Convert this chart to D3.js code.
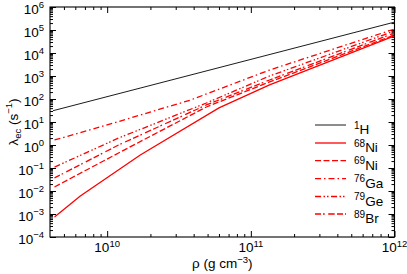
<!DOCTYPE html>
<html><head><meta charset="utf-8">
<script src="https://cdn.jsdelivr.net/npm/d3@7"></script>
<style>
html,body{margin:0;padding:0;background:#fff;}
svg{display:block;font-family:"Liberation Sans",Arial,sans-serif;}
</style></head>
<body>
<script>
// ---- data ----
const xTickValues = [1e10, 1e11, 1e12];
const xTickExps = ["10", "11", "12"];
const yTickValues = [1e-4, 1e-3, 1e-2, 1e-1, 1e0, 1e1, 1e2, 1e3, 1e4, 1e5, 1e6];
const yTickExps = ["\u22124", "\u22123", "\u22122", "\u22121", "0", "1", "2", "3", "4", "5", "6"];

const seriesNames = ["H", "Ni", "Ni", "Ga", "Ge", "Br"];
const seriesMass = ["1", "68", "69", "76", "79", "89"];

const rhoH = [4.2e9, 1e12];
const rateH = [31, 2.2e5];
const rhoNi68 = [4.3e9, 6.5e9, 1.7e10, 6e10, 1.35e11, 1e12];
const rateNi68 = [7.4e-4, 6.1e-3, 0.37, 41, 410, 5.5e4];
const rhoNi69 = [4.3e9, 1.2e10, 4.9e10, 1.35e11, 1e12];
const rateNi69 = [0.015, 0.45, 45, 550, 6.1e4];
const rhoGa76 = [4.3e9, 1.2e10, 3.8e10, 1.35e11, 1e12];
const rateGa76 = [1.65, 10.5, 90, 1820, 1.1e5];
const rhoGe79 = [4.3e9, 1.2e10, 4.9e10, 1.35e11, 1e12];
const rateGe79 = [0.11, 2.0, 67, 1000, 9.1e4];
const rhoBr89 = [4.3e9, 1.2e10, 4.9e10, 1.35e11, 1e12];
const rateBr89 = [0.037, 1.0, 55, 670, 7.4e4];

// ---- styles ----
const seriesRho = [rhoH, rhoNi68, rhoNi69, rhoGa76, rhoGe79, rhoBr89];
const seriesRate = [rateH, rateNi68, rateNi69, rateGa76, rateGe79, rateBr89];
const colors = ["#000", "#ff0000", "#ff0000", "#ff0000", "#ff0000", "#ff0000"];
const widths = [0.9, 1.3, 1.3, 1.3, 1.3, 1.3];
const dashes = [null, null, "6,2.5", "6,3,1.5,3", "6,2.5,1.5,2,1.5,2.5", "6,2,1.7,3.5,6.5,2.3"];

const W = 407, H = 274;
const L = 50, R = 394.5, T = 7, B = 237;

const svg = d3.select("body").append("svg").attr("width", W).attr("height", H);

const x = d3.scaleLog().domain([4e9, 1e12]).range([L, R]);
const y = d3.scaleLog().domain([1e-4, 1e6]).range([B, T]);

// minor tick values
const xMinor = [];
for (const d of [1e9, 1e10, 1e11]) for (let k = 2; k <= 9; k++) { const v = k * d; if (v > 4e9 && v < 1e12) xMinor.push(v); }
const yMinor = [];
for (let e = -4; e < 6; e++) for (let k = 2; k <= 9; k++) yMinor.push(k * Math.pow(10, e));

const axG = svg.append("g");
function addAxis(axisFn, scale, vals, size, transform) {
  const g = axG.append("g").attr("transform", transform)
    .call(axisFn(scale).tickValues(vals).tickSize(size).tickFormat(""));
  g.select(".domain").remove();
  g.selectAll("line").attr("stroke", "#000").attr("stroke-width", 1);
}
addAxis(d3.axisBottom, x, xTickValues, -6, `translate(0,${B})`);
addAxis(d3.axisBottom, x, xMinor, -3, `translate(0,${B})`);
addAxis(d3.axisTop, x, xTickValues, -6, `translate(0,${T})`);
addAxis(d3.axisTop, x, xMinor, -3, `translate(0,${T})`);
addAxis(d3.axisLeft, y, yTickValues, -6, `translate(${L},0)`);
addAxis(d3.axisLeft, y, yMinor, -3, `translate(${L},0)`);
addAxis(d3.axisRight, y, yTickValues, -6, `translate(${R},0)`);
addAxis(d3.axisRight, y, yMinor, -3, `translate(${R},0)`);

svg.append("rect").attr("x", L).attr("y", T).attr("width", R - L).attr("height", B - T)
  .attr("fill", "none").attr("stroke", "#000").attr("stroke-width", 1.1);

svg.append("clipPath").attr("id", "clip").append("rect")
  .attr("x", L).attr("y", T).attr("width", R - L).attr("height", B - T);

const line = d3.line().x(d => x(d[0])).y(d => y(d[1]));
const plotG = svg.append("g").attr("clip-path", "url(#clip)");
seriesRho.forEach((xs, i) => {
  const pts = xs.map((v, j) => [v, seriesRate[i][j]]);
  plotG.append("path").attr("d", line(pts)).attr("fill", "none")
    .attr("stroke", colors[i]).attr("stroke-width", widths[i])
    .attr("stroke-dasharray", dashes[i]);
});

const fs = 13.5, sfs = 9.5;
yTickValues.forEach((v, i) => {
  const t = svg.append("text").attr("x", L - 6).attr("y", y(v) + 6.5)
    .attr("text-anchor", "end").attr("font-size", fs);
  t.append("tspan").text("10");
  t.append("tspan").attr("font-size", sfs).attr("dy", -5.5).text(yTickExps[i]);
});
xTickValues.forEach((v, i) => {
  const t = svg.append("text").attr("x", x(v)).attr("y", 252)
    .attr("text-anchor", "middle").attr("font-size", fs);
  t.append("tspan").text("10");
  t.append("tspan").attr("font-size", sfs).attr("dy", -5.5).text(xTickExps[i]);
});

const xt = svg.append("text").attr("x", (L + R) / 2).attr("y", 267.5)
  .attr("text-anchor", "middle").attr("font-size", fs);
xt.append("tspan").text("\u03c1 (g cm");
xt.append("tspan").attr("font-size", sfs).attr("dy", -4.5).text("\u22123");
xt.append("tspan").attr("dy", 4.5).text(")");

const yt = svg.append("text").attr("transform", `translate(17.5,${(T + B) / 2}) rotate(-90)`)
  .attr("text-anchor", "middle").attr("font-size", fs);
yt.append("tspan").text("\u03bb");
yt.append("tspan").attr("font-size", sfs).attr("dy", 3).text("ec");
yt.append("tspan").attr("dy", -3).text(" (s");
yt.append("tspan").attr("font-size", sfs).attr("dy", -5.5).text("\u22121");
yt.append("tspan").attr("dy", 5.5).text(")");

const legY = [125, 143, 160.7, 178.7, 196.5, 214];
seriesNames.forEach((n, i) => {
  svg.append("line").attr("x1", 315).attr("x2", 346).attr("y1", legY[i]).attr("y2", legY[i])
    .attr("stroke", colors[i]).attr("stroke-width", widths[i])
    .attr("stroke-dasharray", dashes[i]);
  const t = svg.append("text").attr("x", 354).attr("y", legY[i] + 9).attr("font-size", fs);
  t.append("tspan").attr("font-size", sfs + 0.5).attr("dy", -5.5).text(seriesMass[i]);
  t.append("tspan").attr("dy", 5.5).text(n);
});
</script>
</body></html>
